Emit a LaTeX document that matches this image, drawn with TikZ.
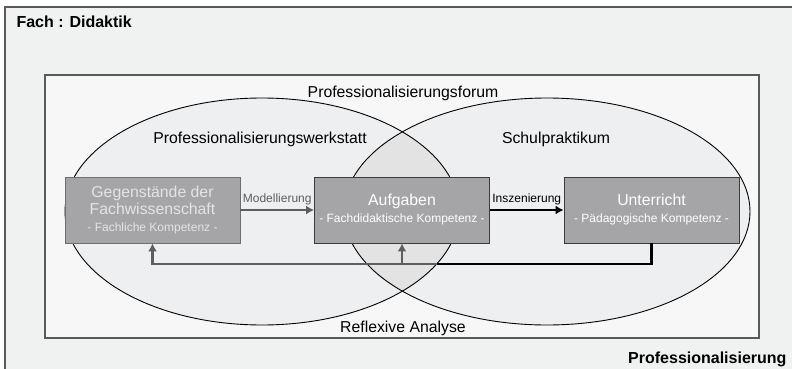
\documentclass[tikz,border=0pt]{standalone}
\usepackage{fontspec}
\setmainfont{Liberation Sans}
\usetikzlibrary{arrows.meta,positioning}

\definecolor{framebg}{HTML}{F0F1F1}
\definecolor{framegray}{HTML}{5A5A5A}
\definecolor{innerbg}{HTML}{F7F7F7}
\definecolor{bubble}{HTML}{EEEFF0}
\definecolor{lens}{HTML}{E3E3E4}
\definecolor{boxfill}{HTML}{A5A5A7}
\definecolor{boxline}{HTML}{3C3C3C}
\definecolor{softline}{HTML}{6E6E6E}
\definecolor{softtext}{HTML}{E4E4E4}
\definecolor{arrowgray}{HTML}{5E5E5E}

\newcommand{\kompfont}{\fontsize{12}{17}\selectfont}

\begin{document}
\begin{tikzpicture}[x=1pt,y=-1pt,>={Latex[length=8pt,width=9pt]},node distance=249.5pt,
                    font=\fontsize{15.8}{17}\selectfont]

  \tikzstyle{box}=[rectangle,draw=boxline,fill=boxfill,thick,align=center,
                   minimum width=175pt,minimum height=66pt,inner sep=0pt,
                   text=white]
  \tikzstyle{flow}=[->,line width=2.6pt]
  \tikzstyle{heading}=[font=\bfseries\fontsize{16}{17}\selectfont]
  \tikzstyle{verb}=[font=\fontsize{12}{14}\selectfont]

  \useasboundingbox (0,0) rectangle (792,369);
  \clip (0,0) rectangle (792,369);

  \filldraw[fill=framebg,draw=framegray,line width=1.2pt] (5,7) rectangle (830,400);
  \filldraw[fill=innerbg,draw=framegray,line width=1.2pt] (45,75) rectangle (759,338);

  % Werkstatt und Praktikum
  \fill[bubble] (262,211.5) ellipse (197pt and 113.5pt);
  \fill[bubble] (547,211.5) ellipse (203pt and 113.5pt);
  \begin{scope}
    \clip (262,211.5) ellipse (197pt and 113.5pt);
    \fill[lens] (547,211.5) ellipse (203pt and 113.5pt);
  \end{scope}
  \draw[line width=0.9pt] (262,211.5) ellipse (197pt and 113.5pt);
  \draw[line width=0.9pt] (547,211.5) ellipse (203pt and 113.5pt);

  \node[heading,anchor=base west] (fach) at (13,28)  {Fach : Didaktik};
  \node[heading,anchor=base east] (prof) at (790,363) {Professionalisierung};

  \node[anchor=base] (forum) at (403,97)  {Professionalisierungsforum};
  \node[anchor=base] (werk)  at (260,143) {Professionalisierungswerkstatt};
  \node[anchor=base] (schul) at (556,143) {Schulpraktikum};
  \node[anchor=base] (refl)  at (403,332) {Reflexive Analyse};

  \node[box,draw=softline,text=softtext] (GEG) at (152.5,210)
        {Gegenstände der\\Fachwissenschaft\\{\kompfont - Fachliche Kompetenz -}};
  \node[box] (AUF) [right of=GEG] {Aufgaben\\{\kompfont - Fachdidaktische Kompetenz -}};
  \node[box] (UNT) [right of=AUF] {Unterricht\\{\kompfont - Pädagogische Kompetenz -}};

  \draw[flow,arrowgray] (GEG) -- node[verb,above,text=arrowgray] {Modellierung} (AUF);
  \draw[flow,black]     (AUF) -- node[verb,above] {Inszenierung} (UNT);

  % Rueckkopplung
  \coordinate (back) at (437,264);
  \draw[line width=2.6pt] (UNT.south) |- (back);
  \draw[flow,arrowgray] (back) -| (GEG.south);
  \draw[flow,arrowgray] (AUF.south |- back) -- (AUF.south);
\end{tikzpicture}
\end{document}
